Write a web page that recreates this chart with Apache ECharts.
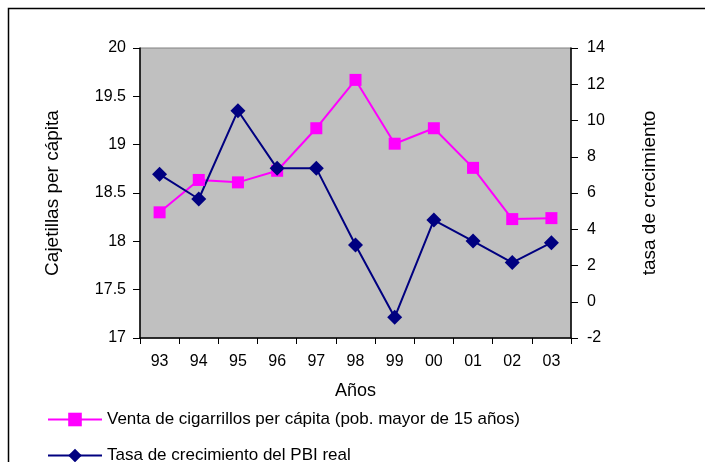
<!DOCTYPE html>
<html><head><meta charset="utf-8">
<script src="https://cdn.jsdelivr.net/npm/echarts@6/dist/echarts.min.js"></script>
<style>html,body{margin:0;padding:0;background:#fff}#c{width:705px;height:462px}</style>
</head><body><div id="c"></div>
<script>
const years = ['93','94','95','96','97','98','99','00','01','02','03'];
const ventaCigarrillos = [18.30, 18.635, 18.61, 18.73, 19.17, 19.67, 19.01, 19.17, 18.76, 18.23, 18.24];
const tasaPBI = [7.03, 5.67, 10.54, 7.36, 7.36, 3.13, -0.86, 4.51, 3.35, 2.16, 3.26];
const leftTicks = {min: 17, max: 20, interval: 0.5};
const rightTicks = {min: -2, max: 14, interval: 2};
const seriesNames = ['Venta de cigarrillos per cápita (pob. mayor de 15 años)', 'Tasa de crecimiento del PBI real'];

const font = 'Liberation Sans, Arial, sans-serif';
const legendBase = {
  orient: 'vertical', left: 42, itemWidth: 54, itemHeight: 17, itemGap: 5,
  textStyle: {fontFamily: font, fontSize: 17, color: '#000'}
};
const chart = echarts.init(document.getElementById('c'));
chart.setOption({
  animation: false,
  textStyle: {fontFamily: font},
  graphic: [{type: 'rect', shape: {x: 8.5, y: 8.5, width: 720, height: 480}, style: {fill: 'none', stroke: '#000', lineWidth: 1.5}, z: 100}],
  grid: {left: 140, right: 134, top: 48, bottom: 124, show: true, backgroundColor: '#c0c0c0', borderColor: '#808080', borderWidth: 1},
  legend: [
    Object.assign({}, legendBase, {top: 406, data: [seriesNames[0]]}),
    Object.assign({}, legendBase, {top: 442, data: [seriesNames[1]]})
  ],
  xAxis: {
    type: 'category', data: years, boundaryGap: true,
    name: 'Años', nameLocation: 'middle', nameGap: 44,
    nameTextStyle: {fontSize: 18, color: '#000', fontFamily: font},
    axisLine: {onZero: false, lineStyle: {color: '#000', width: 1.5}},
    axisTick: {show: true, inside: false, length: 6, lineStyle: {color: '#000'}},
    axisLabel: {color: '#000', fontSize: 16, margin: 16, fontFamily: font},
    splitLine: {show: false}
  },
  yAxis: [{
    type: 'value', position: 'left', min: leftTicks.min, max: leftTicks.max, interval: leftTicks.interval,
    name: 'Cajetillas per cápita', nameLocation: 'middle', nameGap: 78, nameRotate: 90,
    nameTextStyle: {fontSize: 19, color: '#000', fontFamily: font},
    axisLine: {show: true, onZero: false, lineStyle: {color: '#000', width: 1.5}},
    axisTick: {show: true, length: 7, lineStyle: {color: '#000'}},
    axisLabel: {color: '#000', fontSize: 16, margin: 14, fontFamily: font},
    splitLine: {show: false}
  }, {
    type: 'value', position: 'right', min: rightTicks.min, max: rightTicks.max, interval: rightTicks.interval,
    name: 'tasa de crecimiento', nameLocation: 'middle', nameGap: 69, nameRotate: 90,
    nameTextStyle: {fontSize: 19, color: '#000', fontFamily: font},
    axisLine: {show: true, onZero: false, lineStyle: {color: '#000', width: 1.5}},
    axisTick: {show: true, length: 7, lineStyle: {color: '#000'}},
    axisLabel: {color: '#000', fontSize: 16, margin: 16, fontFamily: font},
    splitLine: {show: false}
  }],
  series: [{
    name: seriesNames[0], type: 'line', yAxisIndex: 0,
    data: ventaCigarrillos, symbol: 'rect', symbolSize: 12,
    lineStyle: {color: '#ff00ff', width: 2}, itemStyle: {color: '#ff00ff'}
  }, {
    name: seriesNames[1], type: 'line', yAxisIndex: 1,
    data: tasaPBI, symbol: 'diamond', symbolSize: 15,
    lineStyle: {color: '#000080', width: 2}, itemStyle: {color: '#000080'}
  }]
});
</script></body></html>
